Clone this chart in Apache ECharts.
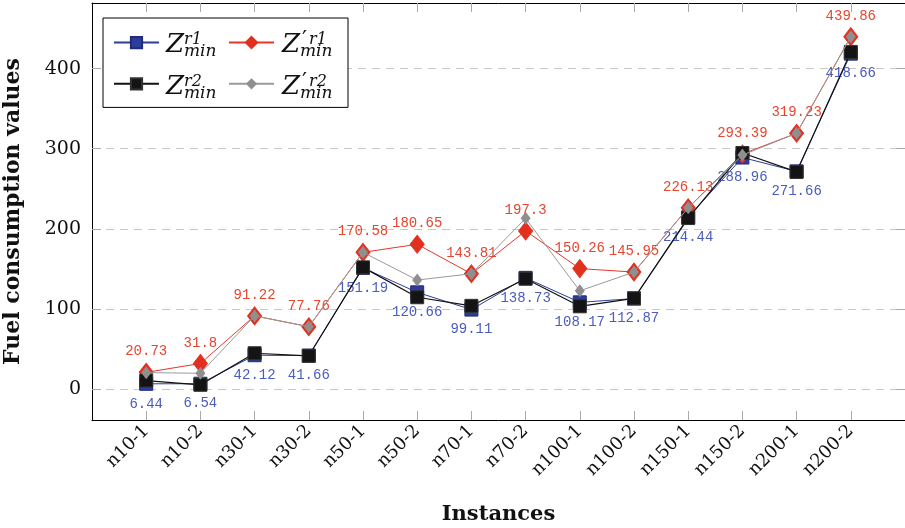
<!DOCTYPE html>
<html>
<head>
<meta charset="utf-8">
<script src="https://cdn.jsdelivr.net/npm/echarts@6/dist/echarts.min.js"></script>
<style>
  html, body { margin: 0; padding: 0; background: #fff; }
  #chart { width: 905px; height: 528px; }
</style>
</head>
<body>
<div id="chart"></div>
<script>
// Instance names along the x axis
const instances = ['n10-1', 'n10-2', 'n30-1', 'n30-2', 'n50-1', 'n50-2', 'n70-1',
  'n70-2', 'n100-1', 'n100-2', 'n150-1', 'n150-2', 'n200-1', 'n200-2'];

// Fuel consumption per instance for each variant
const zR1 = [6.44, 6.54, 42.12, 41.66, 151.19, 120.66, 99.11, 138.73, 108.17, 112.87, 214.44, 288.96, 271.66, 418.66];
const zPrimeR1 = [20.73, 31.8, 91.22, 77.76, 170.58, 180.65, 143.81, 197.3, 150.26, 145.95, 226.13, 293.39, 319.23, 439.86];
const zR2 = [10.5, 5.2, 44.6, 41.4, 151.8, 114.5, 103.8, 137.6, 103.2, 113.2, 213.4, 294.6, 271.0, 420.8];
const zPrimeR2 = [20.4, 19.6, 91.22, 77.76, 170.58, 136.0, 143.81, 213.0, 122.5, 145.95, 226.13, 292.0, 319.23, 439.86];

// Y axis tick values
const yTicks = [0, 100, 200, 300, 400];

// Legend entries: series name, prime mark, superscript, subscript
const seriesNames = ['Zr1', "Z'r1", 'Zr2', "Z'r2"];
const legendPrime = [false, true, false, true];
const legendSup = ['r1', 'r1', 'r2', 'r2'];
const legendSub = ['min', 'min', 'min', 'min'];

const serif = 'DejaVu Serif';
const xIdx = instances.map((_, i) => i);
const toPoints = vals => vals.map((v, i) => [i, v]);

const axisCommon = {
  axisLine: { show: true, onZero: false, lineStyle: { color: '#000', width: 1 } },
  axisTick: { show: true, inside: true, length: 9, lineStyle: { color: '#aaa', width: 1 } }
};

// Math-style legend labels: Z with stacked super/subscript
const legendText = [];
const colX = [166, 282];
const rowBase = [54, 96];
seriesNames.forEach((_, i) => {
  const x = colX[i % 2];
  const base = rowBase[Math.floor(i / 2)];
  const mk = (text, dx, baseY, size, italic) => ({
    type: 'text', x: x + dx, y: baseY - 0.346 * size, z: 100,
    style: {
      text, fontFamily: serif, fontStyle: italic === false ? 'normal' : 'italic', fontSize: size,
      fill: '#111', align: 'left', verticalAlign: 'middle'
    }
  });
  legendText.push(mk('Z', 0, base, 26));
  let supX = 18;
  if (legendPrime[i]) {
    legendText.push(mk('\u2032', 20, base - 6, 22, false));
    supX = 27;
  }
  legendText.push(mk(legendSup[i], supX, base - 9, 16));
  legendText.push(mk(legendSub[i], 18, base + 3, 17));
});

const chart = echarts.init(document.getElementById('chart'));

chart.setOption({
  animation: false,
  backgroundColor: '#fff',
  grid: { left: 92, right: 0, top: 3, bottom: 108, outerBoundsMode: 'none', containLabel: false },
  legend: {
    left: 103, top: 18,
    width: 220,
    orient: 'horizontal',
    padding: [18, 33, 17, 10],
    itemGap: 28,
    itemWidth: 45,
    itemHeight: 14,
    backgroundColor: '#fff',
    borderColor: '#000',
    borderWidth: 1,
    borderRadius: 0,
    data: seriesNames,
    formatter: () => '',
    textStyle: { width: 36, fontSize: 12, lineHeight: 14 }
  },
  graphic: legendText,
  xAxis: [{
    type: 'value', min: -1, max: 14, position: 'bottom',
    name: 'Instances', nameLocation: 'middle', nameGap: 84,
    nameTextStyle: { fontFamily: serif, fontWeight: 'bold', fontSize: 21, color: '#111' },
    ...axisCommon,
    axisTick: { ...axisCommon.axisTick, customValues: xIdx },
    axisLabel: {
      customValues: xIdx, rotate: 45, margin: 8,
      fontFamily: serif, fontSize: 18, color: '#111',
      formatter: v => instances[v] || ''
    },
    splitLine: { show: false }
  }, {
    type: 'value', min: -1, max: 14, position: 'top',
    ...axisCommon,
    axisTick: { ...axisCommon.axisTick, customValues: xIdx },
    axisLabel: { show: false },
    splitLine: { show: false }
  }],
  yAxis: [{
    type: 'value', min: -38.75, max: 481.9, position: 'left',
    name: 'Fuel consumption values', nameLocation: 'middle', nameGap: 68,
    nameTextStyle: { fontFamily: serif, fontWeight: 'bold', fontSize: 22, color: '#111' },
    ...axisCommon,
    axisTick: { ...axisCommon.axisTick, customValues: yTicks },
    axisLabel: { customValues: yTicks, margin: 11, fontFamily: serif, fontSize: 19, color: '#111' },
    splitLine: { show: true, lineStyle: { color: '#c8c8c8', width: 1, type: [8, 6] } }
  }, {
    type: 'value', min: -38.75, max: 481.9, position: 'right',
    ...axisCommon,
    axisTick: { ...axisCommon.axisTick, customValues: yTicks },
    axisLabel: { show: false },
    splitLine: { show: false }
  }],
  series: [{
    name: 'Zr1', type: 'line', data: toPoints(zR1),
    symbol: 'rect', symbolSize: 13,
    lineStyle: { color: '#2c3d9c', width: 1 },
    itemStyle: { color: '#2c3d9c', borderColor: '#1f2c78', borderWidth: 1 },
    label: {
      show: true, position: 'bottom', distance: 6,
      fontFamily: 'Liberation Mono', fontSize: 14, color: '#4a5cbc',
      formatter: p => String(zR1[p.dataIndex])
    },
    z: 2
  }, {
    name: "Z'r1", type: 'line', data: toPoints(zPrimeR1),
    symbol: 'diamond', symbolSize: [14, 18],
    lineStyle: { color: '#e2382a', width: 1 },
    itemStyle: { color: '#e2301f', borderColor: '#e2301f', borderWidth: 1 },
    label: {
      show: true, position: 'top', distance: 4,
      fontFamily: 'Liberation Mono', fontSize: 14, color: '#e8452f',
      formatter: p => String(zPrimeR1[p.dataIndex])
    },
    z: 3
  }, {
    name: 'Zr2', type: 'line', data: toPoints(zR2),
    symbol: 'rect', symbolSize: 13,
    lineStyle: { color: '#111', width: 1.2 },
    itemStyle: { color: '#141414', borderColor: '#333', borderWidth: 1 },
    z: 4
  }, {
    name: "Z'r2", type: 'line', data: toPoints(zPrimeR2),
    symbol: 'diamond', symbolSize: [10, 13],
    lineStyle: { color: '#9a9a9a', width: 1 },
    itemStyle: { color: '#8f8f8f' },
    z: 5
  }]
});
</script>
</body>
</html>
